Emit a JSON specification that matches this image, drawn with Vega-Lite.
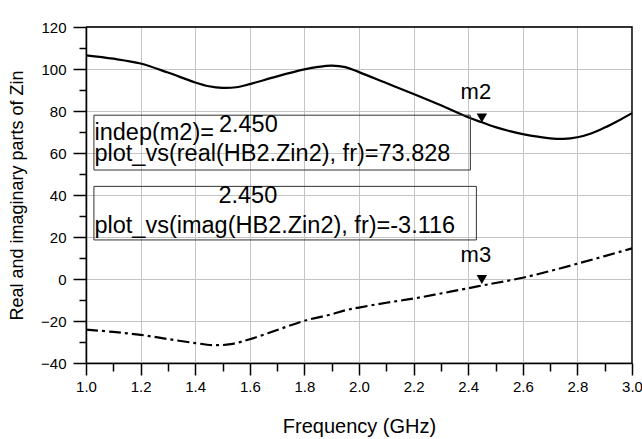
{
  "$schema": "https://vega.github.io/schema/vega-lite/v6.json",
  "width": 546,
  "height": 336,
  "padding": {"left": 8, "top": 20, "right": 7, "bottom": 5},
  "background": "white",
  "config": {
    "view": {"stroke": "black", "strokeWidth": 1.2},
    "font": "Liberation Sans",
    "axis": {
      "domainColor": "black",
      "domainWidth": 1.5,
      "tickColor": "#000000",
      "tickWidth": 1.5,
      "gridColor": "#c4c4c4",
      "gridWidth": 1,
      "labelColor": "black",
      "labelFont": "Liberation Sans",
      "labelFontSize": 15,
      "titleFont": "Liberation Sans",
      "titleColor": "black",
      "titleFontWeight": "normal",
      "labelFlush": false,
      "labelOverlap": false
    }
  },
  "resolve": {"axis": {"x": "independent", "y": "independent"}},
  "datasets": {
    "curves": [
      {"freq": 1.0, "value": 106.5, "series": "real"},
      {"freq": 1.1, "value": 104.9, "series": "real"},
      {"freq": 1.2, "value": 102.6, "series": "real"},
      {"freq": 1.3, "value": 98.3, "series": "real"},
      {"freq": 1.4, "value": 93.6, "series": "real"},
      {"freq": 1.45, "value": 91.8, "series": "real"},
      {"freq": 1.5, "value": 91.0, "series": "real"},
      {"freq": 1.55, "value": 91.3, "series": "real"},
      {"freq": 1.6, "value": 92.8, "series": "real"},
      {"freq": 1.7, "value": 96.5, "series": "real"},
      {"freq": 1.8, "value": 99.8, "series": "real"},
      {"freq": 1.85, "value": 101.0, "series": "real"},
      {"freq": 1.9, "value": 101.6, "series": "real"},
      {"freq": 1.95, "value": 100.9, "series": "real"},
      {"freq": 2.0, "value": 98.5, "series": "real"},
      {"freq": 2.1, "value": 93.3, "series": "real"},
      {"freq": 2.2, "value": 88.1, "series": "real"},
      {"freq": 2.3, "value": 82.7, "series": "real"},
      {"freq": 2.4, "value": 77.0, "series": "real"},
      {"freq": 2.45, "value": 74.6, "series": "real"},
      {"freq": 2.5, "value": 72.3, "series": "real"},
      {"freq": 2.55, "value": 70.5, "series": "real"},
      {"freq": 2.6, "value": 69.0, "series": "real"},
      {"freq": 2.7, "value": 67.0, "series": "real"},
      {"freq": 2.75, "value": 66.7, "series": "real"},
      {"freq": 2.8, "value": 67.5, "series": "real"},
      {"freq": 2.85, "value": 69.3, "series": "real"},
      {"freq": 2.9, "value": 72.1, "series": "real"},
      {"freq": 2.95, "value": 75.4, "series": "real"},
      {"freq": 3.0, "value": 79.0, "series": "real"},
      {"freq": 1.0, "value": -24.1, "series": "imag"},
      {"freq": 1.1, "value": -25.2, "series": "imag"},
      {"freq": 1.2, "value": -26.6, "series": "imag"},
      {"freq": 1.3, "value": -28.6, "series": "imag"},
      {"freq": 1.4, "value": -30.5, "series": "imag"},
      {"freq": 1.47, "value": -31.5, "series": "imag"},
      {"freq": 1.53, "value": -31.0, "series": "imag"},
      {"freq": 1.6, "value": -28.7, "series": "imag"},
      {"freq": 1.7, "value": -24.3, "series": "imag"},
      {"freq": 1.8, "value": -19.9, "series": "imag"},
      {"freq": 1.9, "value": -16.8, "series": "imag"},
      {"freq": 1.95, "value": -14.9, "series": "imag"},
      {"freq": 2.0, "value": -13.6, "series": "imag"},
      {"freq": 2.1, "value": -11.3, "series": "imag"},
      {"freq": 2.2, "value": -9.3, "series": "imag"},
      {"freq": 2.3, "value": -6.9, "series": "imag"},
      {"freq": 2.4, "value": -4.4, "series": "imag"},
      {"freq": 2.45, "value": -3.116, "series": "imag"},
      {"freq": 2.5, "value": -1.9, "series": "imag"},
      {"freq": 2.6, "value": 0.6, "series": "imag"},
      {"freq": 2.7, "value": 3.8, "series": "imag"},
      {"freq": 2.8, "value": 7.3, "series": "imag"},
      {"freq": 2.9, "value": 10.9, "series": "imag"},
      {"freq": 3.0, "value": 14.6, "series": "imag"}
    ],
    "frame": [
      {"fx": 1.0, "fy": 120, "order": 1},
      {"fx": 3.0, "fy": 120, "order": 2},
      {"fx": 3.0, "fy": -40, "order": 3}
    ],
    "boxes": [
      {"x1": 1.029, "x2": 2.408, "y1": 78.0, "y2": 51.9},
      {"x1": 1.029, "x2": 2.43, "y1": 44.1, "y2": 18.6}
    ],
    "texts": [
      {"freq": 1.031, "value": 66.4, "label": "indep(m2)="},
      {"freq": 1.487, "value": 69.8, "label": "2.450"},
      {"freq": 1.031, "value": 56.2, "label": "plot_vs(real(HB2.Zin2), fr)=73.828"},
      {"freq": 1.485, "value": 36.0, "label": "2.450"},
      {"freq": 1.031, "value": 22.1, "label": "plot_vs(imag(HB2.Zin2), fr)=-3.116"}
    ],
    "markers": [
      {"freq": 2.45, "value": 73.828, "name": "m2", "labelValue": 85.8},
      {"freq": 2.45, "value": -3.116, "name": "m3", "labelValue": 8.1}
    ]
  },
  "layer": [
    {
      "data": {"name": "curves"},
      "transform": [{"filter": "datum.series == 'real'"}],
      "mark": {"type": "line", "interpolate": "catmull-rom", "strokeWidth": 2.2, "color": "black"},
      "encoding": {
        "x": {
          "field": "freq", "type": "quantitative",
          "scale": {"domain": [1, 3], "nice": false, "zero": false},
          "axis": {
            "orient": "bottom",
            "title": "Frequency (GHz)",
            "titleFontSize": 20,
            "titlePadding": 22,
            "values": [1.0, 1.2, 1.4, 1.6, 1.8, 2.0, 2.2, 2.4, 2.6, 2.8, 3.0],
            "format": ".1f",
            "grid": true,
            "tickSize": 12,
            "labelPadding": 4
          }
        },
        "y": {
          "field": "value", "type": "quantitative",
          "scale": {"domain": [-40, 120], "nice": false, "zero": false},
          "axis": {
            "orient": "left",
            "title": "Real and imaginary parts of Zin",
            "titleFontSize": 18,
            "titlePadding": 14,
            "values": [-40, -20, 0, 20, 40, 60, 80, 100, 120],
            "format": "d",
            "grid": true,
            "tickSize": 13,
            "labelPadding": 7
          }
        }
      }
    },
    {
      "data": {"name": "curves"},
      "transform": [{"filter": "datum.series == 'imag'"}],
      "mark": {"type": "line", "interpolate": "catmull-rom", "strokeWidth": 2.2, "color": "black", "strokeDash": [12, 4, 3, 4]},
      "encoding": {
        "x": {"field": "freq", "type": "quantitative", "axis": null},
        "y": {"field": "value", "type": "quantitative", "axis": null}
      }
    },
    {
      "data": {"name": "frame"},
      "mark": {"type": "line", "strokeWidth": 1.3, "color": "black"},
      "encoding": {
        "x": {"field": "fx", "type": "quantitative", "axis": null},
        "y": {"field": "fy", "type": "quantitative", "axis": null},
        "order": {"field": "order"}
      }
    },
    {
      "data": {"name": "boxes"},
      "mark": {"type": "rect", "fill": null, "fillOpacity": 0, "stroke": "#333333", "strokeWidth": 1},
      "encoding": {
        "x": {
          "field": "x1", "type": "quantitative",
          "axis": {
            "orient": "bottom", "title": null, "labels": false, "grid": false, "domain": false,
            "values": [1.1, 1.3, 1.5, 1.7, 1.9, 2.1, 2.3, 2.5, 2.7, 2.9],
            "tickSize": 8
          }
        },
        "x2": {"field": "x2"},
        "y": {
          "field": "y1", "type": "quantitative",
          "axis": {
            "orient": "left", "title": null, "labels": false, "grid": false, "domain": false,
            "values": [-30, -10, 10, 30, 50, 70, 90, 110],
            "tickSize": 7
          }
        },
        "y2": {"field": "y2"}
      }
    },
    {
      "data": {"name": "texts"},
      "mark": {"type": "text", "align": "left", "baseline": "alphabetic", "fontSize": 23.5, "color": "black"},
      "encoding": {
        "x": {"field": "freq", "type": "quantitative", "axis": null},
        "y": {"field": "value", "type": "quantitative", "axis": null},
        "text": {"field": "label"}
      }
    },
    {
      "data": {"name": "markers"},
      "mark": {"type": "point", "shape": "triangle-down", "filled": true, "color": "black", "size": 110, "opacity": 1, "yOffset": -6},
      "encoding": {
        "x": {"field": "freq", "type": "quantitative", "axis": null},
        "y": {"field": "value", "type": "quantitative", "axis": null}
      }
    },
    {
      "data": {"name": "markers"},
      "mark": {"type": "text", "align": "center", "baseline": "alphabetic", "fontSize": 22, "color": "black", "dx": -6},
      "encoding": {
        "x": {"field": "freq", "type": "quantitative", "axis": null},
        "y": {"field": "labelValue", "type": "quantitative", "axis": null},
        "text": {"field": "name"}
      }
    }
  ]
}
